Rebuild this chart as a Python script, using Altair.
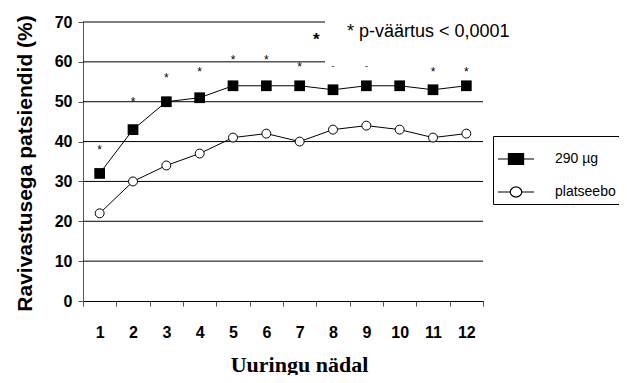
import altair as alt
import pandas as pd

# ---- data ----
weeks = list(range(1, 13))
dose_290 = [32, 43, 50, 51, 54, 54, 54, 53, 54, 54, 53, 54]
placebo = [22, 30, 34, 37, 41, 42, 40, 43, 44, 43, 41, 42]
series_names = ["290 µg", "platseebo"]

star_weeks = [1, 2, 3, 4, 5, 6, 7, 11, 12]
star_levels = [38.7, 50.6, 56.6, 58.1, 61.1, 61.1, 59.4, 58.1, 58.1]
dash_weeks = [8, 9]
dash_levels = [59.0, 59.0]

grid_levels = [10, 20, 30, 40, 50, 60, 70]
grid_ends = [12.5, 12.5, 12.5, 12.5, 12.5, 7.76, 7.76]

note_text = "* p-väärtus < 0,0001"
note_week = [8.42]
note_level = [66.3]
big_star_week = [7.5]
big_star_level = [66.8]

x_ticks = [0.5 + i for i in range(13)]
y_ticks = [0, 10, 20, 30, 40, 50, 60, 70]

# ---- tables ----
long_df = pd.DataFrame({
    "week": weeks * 2,
    "value": dose_290 + placebo,
    "series": [series_names[0]] * 12 + [series_names[1]] * 12,
})
grid_df = pd.DataFrame({"level": grid_levels, "x0": [0.5] * len(grid_levels), "x1": grid_ends})
star_df = pd.DataFrame({"week": star_weeks, "level": star_levels})
dash_df = pd.DataFrame({"week": dash_weeks, "level": dash_levels})
note_df = pd.DataFrame({"week": note_week, "level": note_level, "t": [note_text]})
big_df = pd.DataFrame({"week": big_star_week, "level": big_star_level})
legend_df = pd.DataFrame({"series": series_names})

FONT = "Liberation Sans"
xs = alt.Scale(domain=[0.5, 12.5], nice=False, zero=False)
ys = alt.Scale(domain=[0, 70], nice=False)

x_axis = alt.Axis(
    values=x_ticks, grid=False,
    labelExpr="datum.value < 12 ? format(datum.value + 0.5, 'd') : ''",
    labelOffset=16.67, labelFlush=False, labelOverlap=False,
    labelFont=FONT, labelFontSize=16, labelFontWeight="bold", labelColor="black",
    labelBaseline="top", labelPadding=18,
    domainColor="black", domainWidth=1.2, tickColor="#555", tickSize=5,
    title="Uuringu nädal", titleFont="Liberation Serif", titleFontSize=22,
    titleFontWeight="bold", titleColor="black",
    titleX=216, titleY=70, titleAlign="center", titleBaseline="alphabetic",
)
y_axis = alt.Axis(
    values=y_ticks, grid=False,
    labelFont=FONT, labelFontSize=16, labelFontWeight="bold", labelColor="black",
    labelPadding=6,
    domainColor="#555", tickColor="#555", tickSize=5,
    title="Ravivastusega patsiendid (%)", titleFont=FONT, titleFontSize=21,
    titleFontWeight="bold", titleColor="black",
    titleX=-52, titleY=141, titleAlign="center", titleBaseline="alphabetic",
    titleAngle=270,
)


def X(field):
    return alt.X(field, scale=xs, axis=x_axis)


def Y(field):
    return alt.Y(field, scale=ys, axis=y_axis)


grid = alt.Chart(grid_df).mark_rule(color="black", strokeWidth=1).encode(
    x=X("x0:Q"), x2="x1:Q", y=Y("level:Q"),
)

lines = alt.Chart(long_df).mark_line(color="black", strokeWidth=1).encode(
    x=X("week:Q"), y=Y("value:Q"), detail="series:N",
)

squares = alt.Chart(long_df).transform_filter(
    alt.datum.series == series_names[0]
).mark_point(shape="square", filled=True, color="black", size=115, opacity=1).encode(
    x=X("week:Q"), y=Y("value:Q"),
)

circles = alt.Chart(long_df).transform_filter(
    alt.datum.series == series_names[1]
).mark_point(shape="circle", filled=True, fill="white", stroke="black",
             strokeWidth=1, size=80, opacity=1).encode(
    x=X("week:Q"), y=Y("value:Q"),
)

stars = alt.Chart(star_df).mark_text(text="*", font=FONT, fontSize=12, color="black",
                                      baseline="alphabetic", dy=7).encode(
    x=X("week:Q"), y=Y("level:Q"),
)

dashes = alt.Chart(dash_df).mark_text(text="-", font=FONT, fontSize=10, color="#444",
                                       baseline="alphabetic", dy=3).encode(
    x=X("week:Q"), y=Y("level:Q"),
)

big_star = alt.Chart(big_df).mark_text(text="*", font=FONT, fontSize=17, fontWeight="bold",
                                        color="black", baseline="alphabetic", dy=10).encode(
    x=X("week:Q"), y=Y("level:Q"),
)

note = alt.Chart(note_df).mark_text(font=FONT, fontSize=18, color="black",
                                     align="left", baseline="alphabetic").encode(
    x=X("week:Q"), y=Y("level:Q"), text="t:N",
)

path_290 = "M-1,0H1M-0.42,-0.3H0.42V0.3H-0.42Z"
path_pl = "M-1,0H-0.32M0.32,0H1M-0.32,0A0.32,0.28 0 1,0 0.32,0A0.32,0.28 0 1,0 -0.32,0Z"

leg = alt.Legend(
    orient="none", legendX=410, legendY=114, title=None,
    fillColor="white", strokeColor="black", padding=4, rowPadding=6,
    labelFont=FONT, labelFontSize=14, labelColor="black", labelOffset=20,
    labelAlign="left",
    labelExpr="(datum.label == '290 µg' ? '\u00a0\u00a0\u00a0\u00a0' : '') + datum.label + '\u00a0\u00a0\u00a0'",
    symbolSize=1296, symbolStrokeWidth=1.2, symbolStrokeColor="black",
    symbolOpacity=1,
)

# legend-only layer: no rows survive the filter, the legend comes from the fixed domains
legend_layer = alt.Chart(legend_df).transform_filter("false").mark_point(
    filled=True, size=1296, strokeWidth=1.2, opacity=1
).encode(
    shape=alt.Shape("series:N", scale=alt.Scale(domain=series_names, range=[path_290, path_pl]),
                    legend=leg),
    fill=alt.Fill("series:N", scale=alt.Scale(domain=series_names, range=["black", "white"]),
                  legend=leg),
    stroke=alt.Stroke("series:N", scale=alt.Scale(domain=series_names, range=["black", "black"]),
                      legend=leg),
)

chart = alt.layer(
    grid, lines, squares, circles, stars, dashes, big_star, note, legend_layer
).properties(
    width=400, height=279,
    autosize=alt.AutoSizeParams(type="none"),
    padding={"left": 75, "top": 14, "right": 136, "bottom": 74},
).configure_view(stroke=None)

chart.save("out.html", embed_options={"renderer": "svg", "actions": False})
